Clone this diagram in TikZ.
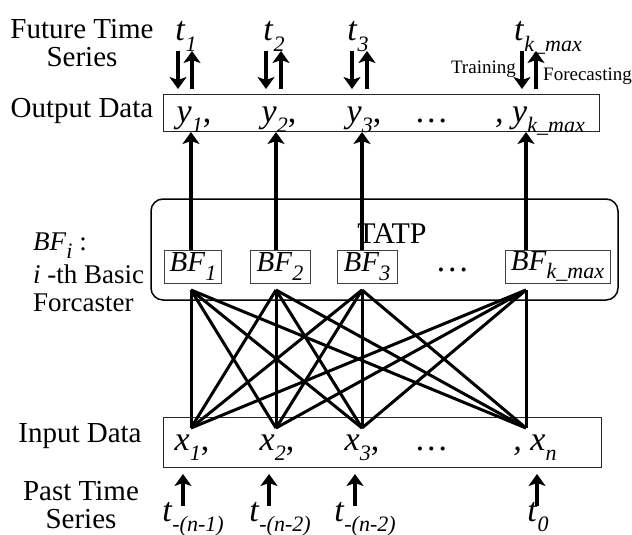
\documentclass[tikz,border=0pt]{standalone}
\usepackage{fontspec}
\setmainfont{Liberation Serif}
\usetikzlibrary{arrows.meta}
\newcommand\vsub[2]{\textit{#1}\raisebox{-.3em}{\fontsize{22}{22}\selectfont\itshape #2}}
\begin{document}
\begin{tikzpicture}[x=1pt,y=-1pt,
  lbl/.style={font=\fontsize{29}{28}\selectfont, align=center, inner sep=0pt},
  var/.style={font=\fontsize{34}{34}\selectfont, inner sep=0pt, anchor=base},
  small/.style={font=\fontsize{19}{20}\selectfont, inner sep=0pt},
  conn/.style={line width=3pt},
  arr/.style={line width=3.2pt, -{Stealth[length=12pt,width=17pt,inset=3pt]}},
  databox/.style={draw=black!85, line width=1pt, inner sep=0pt},
  bfbox/.style={draw=black!75, line width=0.9pt, inner sep=0pt, minimum height=33pt, font=\fontsize{29}{29}\selectfont},
  tatp/.style={draw=black, line width=1.5pt, rounded corners=12pt, inner sep=0pt}
]
\useasboundingbox (0,0) rectangle (632,535);

% left labels
\node[lbl] (lfut) at (82,43) {Future Time\\Series};
\node[lbl] (lout) at (82,111) {Output Data};
\node[lbl, font=\fontsize{27}{28}\selectfont, align=left, anchor=west] (lbf) at (33,272) {\vsub{BF}{i} :\\[5pt]\textit{i} -th Basic\\Forcaster};
\node[lbl] (lin) at (80,436) {Input Data};
\node[lbl] (lpast) at (81,505) {Past Time\\Series};

% boxes
\node[databox, minimum width=436pt, minimum height=37pt] (out) at (381,112.5) {};
\node[databox, minimum width=438pt, minimum height=50pt] (in) at (382,442) {};
\node[tatp, minimum width=467pt, minimum height=101pt] (tatpbox) at (384.5,249.5) {};
\node[lbl, font=\fontsize{30}{30}\selectfont] (tatptxt) at (392,234) {TATP};

% BF boxes
\node[bfbox, minimum width=57pt] (bf1) at (193,266.5) {\vsub{BF}{1}};
\node[bfbox, minimum width=60pt] (bf2) at (280,266.5) {\vsub{BF}{2}};
\node[bfbox, minimum width=60pt] (bf3) at (367,266.5) {\vsub{BF}{3}};
\node[var, anchor=center] (bfdots) at (453,270) {\textit{\dots}};
\node[bfbox, minimum width=105pt] (bf4) at (557.5,266.5) {\vsub{BF}{k\_max}};

% top time labels
\node[var] (t1) at (186,41) {\vsub{t}{1}};
\node[var] (t2) at (274,41) {\vsub{t}{2}};
\node[var] (t3) at (358,41) {\vsub{t}{3}};
\node[var] (tk) at (548,41) {\vsub{t}{k\_max}};
\node[small, anchor=east] (train) at (516,69) {Training};
\node[small, anchor=west] (fore) at (543,76) {Forecasting};

% output labels
\node[var] (y1) at (194,122) {\vsub{y}{1},};
\node[var] (y2) at (279,122) {\vsub{y}{2},};
\node[var] (y3) at (364,122) {\vsub{y}{3},};
\node[var] (ydots) at (432,122) {\textit{\dots}};
\node[var] (yk) at (540,122) {\textit{, }\vsub{y}{k\_max}};

% input labels
\node[var] (x1) at (192,450) {\vsub{x}{1},};
\node[var] (x2) at (277,450) {\vsub{x}{2},};
\node[var] (x3) at (362,450) {\vsub{x}{3},};
\node[var] (xdots) at (432,450) {\textit{\dots}};
\node[var] (xn) at (535,450) {\textit{, }\vsub{x}{n}};

% bottom time labels
\node[var] (p1) at (193,521) {\vsub{t}{-(n-1)}};
\node[var] (p2) at (280,521) {\vsub{t}{-(n-2)}};
\node[var] (p3) at (365,521) {\vsub{t}{-(n-2)}};
\node[var] (p4) at (538,521) {\vsub{t}{0}};

% coordinates
\coordinate (d1a) at (178,51); \coordinate (d1b) at (178,89);
\coordinate (u1a) at (192,89); \coordinate (u1b) at (192,51);
\coordinate (d2a) at (266,51); \coordinate (d2b) at (266,89);
\coordinate (u2a) at (281,89); \coordinate (u2b) at (281,51);
\coordinate (d3a) at (352,51); \coordinate (d3b) at (352,89);
\coordinate (u3a) at (367,89); \coordinate (u3b) at (367,51);
\coordinate (d4a) at (522,51); \coordinate (d4b) at (522,89);
\coordinate (u4a) at (536,89); \coordinate (u4b) at (536,51);

\foreach \i in {1,2,3,4} {
  \draw[arr] (d\i a) -- (d\i b);
  \draw[arr] (u\i a) -- (u\i b);
}

% BF to output
\coordinate (bt1) at (191,250); \coordinate (ot1) at (191,132);
\coordinate (bt2) at (276,250); \coordinate (ot2) at (276,132);
\coordinate (bt3) at (362,250); \coordinate (ot3) at (362,132);
\coordinate (bt4) at (526,250); \coordinate (ot4) at (526,132);
\foreach \i in {1,2,3,4} \draw[arr] (bt\i) -- (ot\i);

% fan lines
\coordinate (bb1) at (191,290); \coordinate (ia1) at (191,428);
\coordinate (bb2) at (276,290); \coordinate (ia2) at (276,428);
\coordinate (bb3) at (362,290); \coordinate (ia3) at (362,428);
\coordinate (bb4) at (526,290); \coordinate (ia4) at (526,428);
\foreach \i in {1,2,3,4} \foreach \j in {1,2,3,4} \draw[conn, line join=miter] (bb\i) -- (ia\j);

% input arrows
\coordinate (pa1) at (183,506); \coordinate (pb1) at (183,474);
\coordinate (pa2) at (269,506); \coordinate (pb2) at (269,474);
\coordinate (pa3) at (355,506); \coordinate (pb3) at (355,474);
\coordinate (pa4) at (537,506); \coordinate (pb4) at (537,474);
\foreach \i in {1,2,3,4} \draw[arr] (pa\i) -- (pb\i);
\end{tikzpicture}
\end{document}
